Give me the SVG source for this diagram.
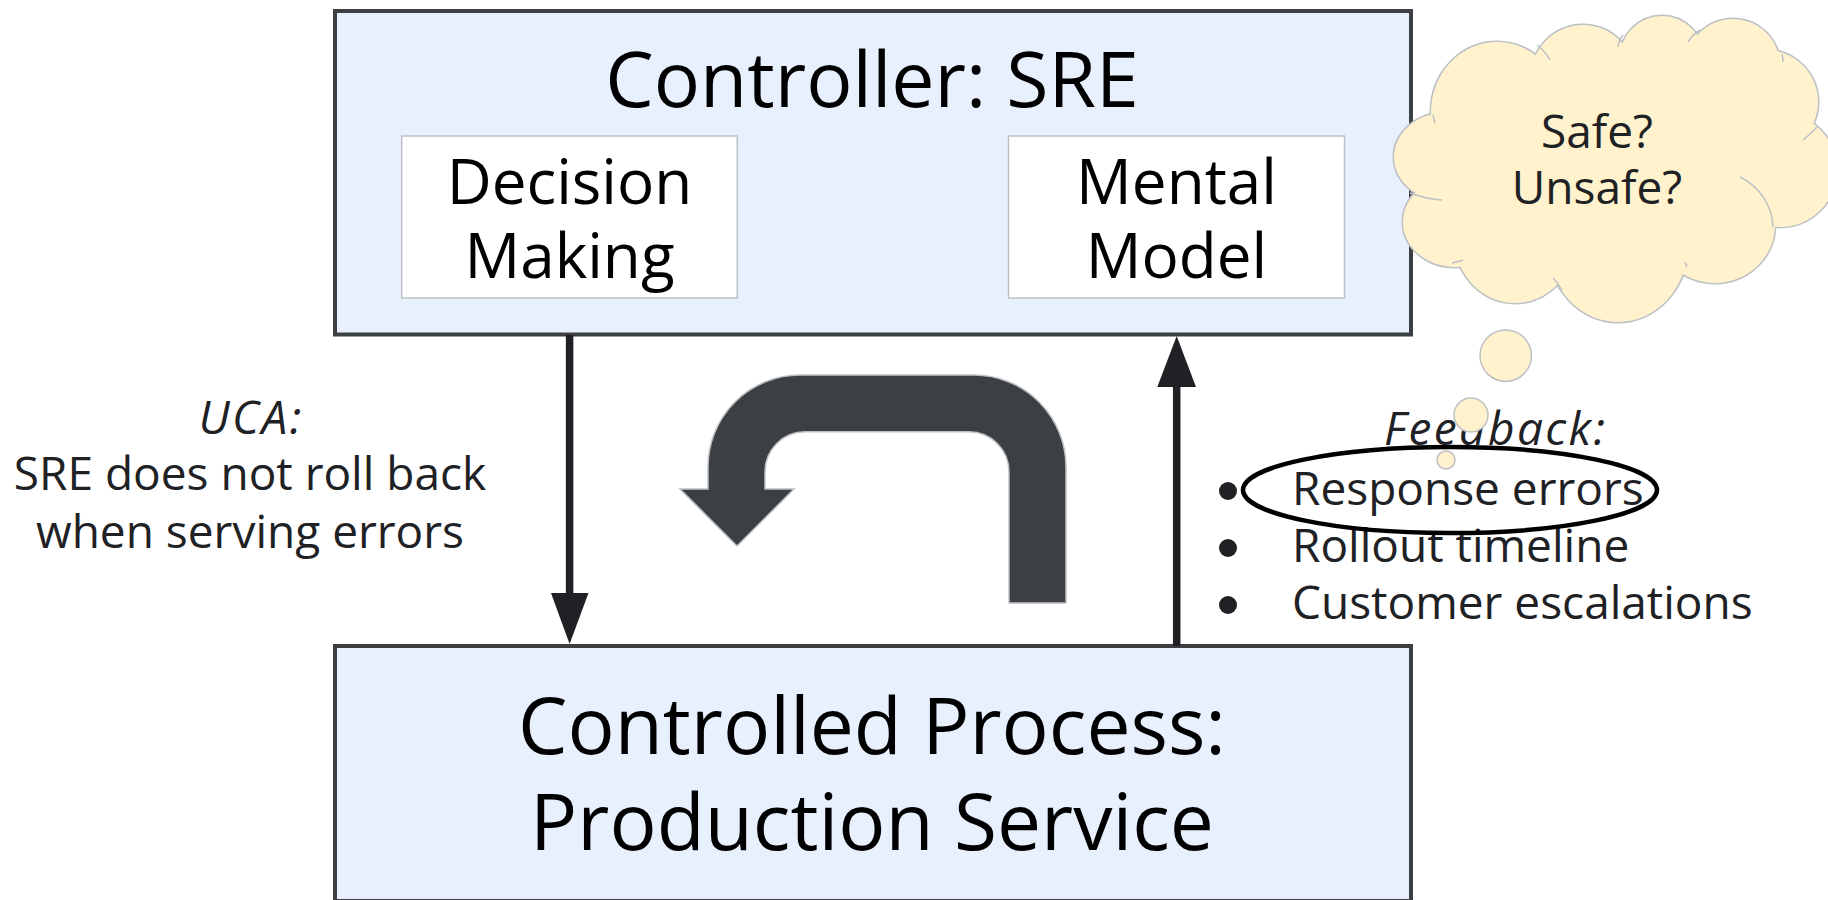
<svg xmlns="http://www.w3.org/2000/svg" width="1828" height="900" viewBox="0 0 1828 900">
  <style>
    .box { fill: #e8f0fe; stroke: #3c4043; stroke-width: 4; }
    .inner { fill: #ffffff; stroke: #bdc1c6; stroke-width: 1.5; }
    .title { font-family: "Open Sans", "Liberation Sans", sans-serif; font-size: 77px; fill: #000000; text-anchor: middle; }
    .big { font-size: 78.5px; }
    .sub { font-family: "Open Sans", "Liberation Sans", sans-serif; font-size: 62px; fill: #000000; text-anchor: middle; }
    .label { font-family: "Open Sans", "Liberation Sans", sans-serif; font-size: 46px; fill: #202124; }
    .mid { text-anchor: middle; }
    .it { font-style: italic; letter-spacing: 2.4px; }
    .cloud-line { fill: none; stroke: #bdc1c6; }
    .cloud-fill { fill: #fff2cc; }
    .bubble { fill: #fff2cc; stroke: #bdc1c6; stroke-width: 1.5; }
  </style>

  <!-- Controller box -->
  <g id="controller">
    <rect class="box" x="335" y="11" width="1076" height="323.5"/>
    <text class="title" x="872" y="107">Controller: SRE</text>
  </g>

  <g id="decision-making">
    <rect class="inner" x="401.7" y="136" width="335.6" height="162"/>
    <text class="sub" x="569.5" y="204">Decision</text>
    <text class="sub" x="569.5" y="278">Making</text>
  </g>

  <g id="mental-model">
    <rect class="inner" x="1008.5" y="136" width="336" height="162"/>
    <text class="sub" x="1176.5" y="204">Mental</text>
    <text class="sub" x="1176.5" y="278">Model</text>
  </g>

  <!-- Controlled process box, runs off the bottom edge -->
  <g id="controlled-process">
    <rect class="box" x="335" y="646" width="1076" height="255"/>
    <text class="title big" x="872" y="754">Controlled Process:</text>
    <text class="title big" x="872" y="850">Production Service</text>
  </g>

  <!-- Connectors -->
  <g id="connectors">
    <!-- control action: down -->
    <line x1="569.6" y1="335" x2="569.6" y2="595" stroke="#202124" stroke-width="7.5"/>
    <polygon points="551,593 588.5,593 569.6,644" fill="#202124"/>
    <!-- feedback: up -->
    <line x1="1176.7" y1="646" x2="1176.7" y2="385" stroke="#202124" stroke-width="7.5"/>
    <polygon points="1157.3,387 1196,387 1176.7,336" fill="#202124"/>
  </g>

  <!-- Loop arrow -->
  <g id="loop-arrow">
    <path d="M1066,603 L1066,467 A92,92 0 0 0 974,375 L800,375 A92,92 0 0 0 708,467 L708,489 L680,489 L737,546 L794,489 L765,489 L765,471.7 A40,40 0 0 1 805,431.7 L969,431.7 A40,40 0 0 1 1009,471.7 L1009,603 Z" fill="#3c4043" stroke="#bdc1c6" stroke-width="1.5" stroke-linejoin="miter"/>
  </g>

  <!-- UCA label -->
  <g id="uca-label">
    <text class="label mid it" x="251" y="434">UCA:</text>
    <text class="label mid" x="250" y="490">SRE does not roll back</text>
    <text class="label mid" x="250" y="548">when serving errors</text>
  </g>

  <!-- Feedback list -->
  <g id="feedback-label">
    <text class="label it" x="1384" y="445">Feedback:</text>
    <circle cx="1228" cy="491" r="9" fill="#202124"/>
    <circle cx="1228" cy="548" r="9" fill="#202124"/>
    <circle cx="1228" cy="605" r="9" fill="#202124"/>
    <text class="label" x="1292" y="505">Response errors</text>
    <text class="label" x="1292" y="562">Rollout timeline</text>
    <text class="label" x="1292" y="619">Customer escalations</text>
    <ellipse cx="1450" cy="490" rx="207" ry="43" fill="none" stroke="#000000" stroke-width="4.5"/>
  </g>

  <!-- Thought cloud -->
  <g id="thought-cloud">
    <g class="cloud-line" stroke-width="3">
      <ellipse cx="1445" cy="157" rx="51" ry="44"/>
      <ellipse cx="1455" cy="222" rx="52" ry="45"/>
      <ellipse cx="1515" cy="240" rx="60" ry="63"/>
      <ellipse cx="1618" cy="245" rx="70" ry="77"/>
      <ellipse cx="1715" cy="225" rx="60" ry="58"/>
      <circle cx="1780" cy="170" r="57"/>
      <circle cx="1766" cy="102" r="52"/>
      <circle cx="1733" cy="66" r="47"/>
      <circle cx="1662" cy="58" r="42"/>
      <circle cx="1583" cy="77" r="52"/>
      <ellipse cx="1497" cy="112" rx="66" ry="70"/>
    </g>
    <g class="cloud-fill">
      <ellipse cx="1445" cy="157" rx="51" ry="44"/>
      <ellipse cx="1455" cy="222" rx="52" ry="45"/>
      <ellipse cx="1515" cy="240" rx="60" ry="63"/>
      <ellipse cx="1618" cy="245" rx="70" ry="77"/>
      <ellipse cx="1715" cy="225" rx="60" ry="58"/>
      <circle cx="1780" cy="170" r="57"/>
      <circle cx="1766" cy="102" r="52"/>
      <circle cx="1733" cy="66" r="47"/>
      <circle cx="1662" cy="58" r="42"/>
      <circle cx="1583" cy="77" r="52"/>
      <ellipse cx="1497" cy="112" rx="66" ry="70"/>
      <ellipse cx="1610" cy="170" rx="170" ry="110"/>
    </g>
    <g class="cloud-line" stroke-width="1.5">
      <path d="M1537,45 Q1545,51 1550,60"/>
      <path d="M1618,47 Q1619,40 1623,35"/>
      <path d="M1688,42 Q1692,35 1700,30"/>
      <path d="M1782,54 Q1783,58 1783,62"/>
      <path d="M1803,140 Q1811,134 1817,127"/>
      <path d="M1740,177 A60,58 0 0 1 1773,227"/>
      <path d="M1685,262 L1687,267"/>
      <path d="M1553,278 Q1558,283 1562,290"/>
      <path d="M1452,263 Q1458,262 1463,260"/>
      <path d="M1410,193 Q1426,199 1442,200"/>
      <path d="M1435,123 L1433,115"/>
    </g>
    <text class="label mid" x="1597" y="148" fill="#000000">Safe?</text>
    <text class="label mid" x="1597" y="204" fill="#000000">Unsafe?</text>
    <circle class="bubble" cx="1505.7" cy="355.7" r="25.7"/>
    <circle class="bubble" cx="1471" cy="415" r="17"/>
    <circle class="bubble" cx="1446" cy="460" r="9"/>
  </g>
</svg>
